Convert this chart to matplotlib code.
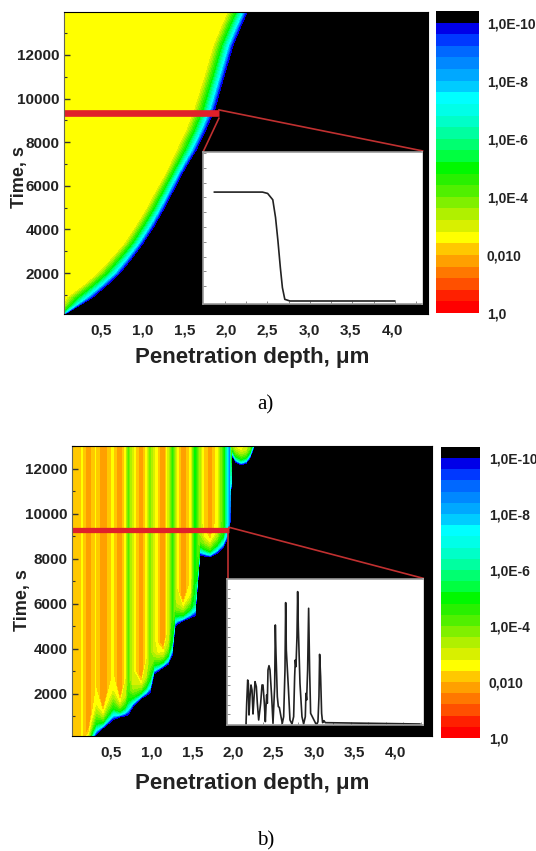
import numpy as np
import matplotlib
matplotlib.use('Agg')
import matplotlib.pyplot as plt
from matplotlib.colors import ListedColormap, BoundaryNorm

W, H = 536, 851
plt.rcParams['font.family'] = ['Liberation Sans', 'DejaVu Sans']

# colour scale, log10 of concentration, from black (low) up to red (1,0)
band_edges = np.linspace(-10.4, 0, 27)
band_colors = ['#000000', '#0000e8', '#0038ff', '#0068ff', '#0088ff', '#00a8ff', '#00ccff',
               '#00ffff', '#00ffe8', '#00ffc8', '#00ffa0', '#00ff70', '#00ff40', '#00f800',
               '#28f000', '#50f000', '#80f000', '#b0f000', '#d8f000', '#ffff00', '#ffc800',
               '#ffa000', '#ff7800', '#ff5000', '#ff2000', '#ff0000']
bar_ticks = [0, -2, -4, -6, -8, -10]
bar_labels = ['1,0', '0,010', '1,0E-4', '1,0E-6', '1,0E-8', '1,0E-10']
depth_ticks = [0.5, 1.0, 1.5, 2.0, 2.5, 3.0, 3.5, 4.0]
depth_labels = ['0,5', '1,0', '1,5', '2,0', '2,5', '3,0', '3,5', '4,0']
time_ticks = [2000, 4000, 6000, 8000, 10000, 12000]

# panel a: inner (yellow) and outer (black) edge of the front at these times
a_time = [120, 532, 899, 1450, 2000, 2688, 3376, 4156, 4890, 5670, 6404, 7046, 7642, 8606, 9569,
          11037, 12459, 13239, 13972]
a_yellow = [-0.03, 0.03, 0.084, 0.277, 0.446, 0.614, 0.771, 0.904, 1.024, 1.133, 1.241, 1.325, 1.398,
            1.518, 1.614, 1.735, 1.843, 1.928, 2.012]
a_black = [0.06, 0.241, 0.398, 0.566, 0.723, 0.867, 1.0, 1.133, 1.241, 1.349, 1.446, 1.542, 1.639,
           1.759, 1.867, 1.976, 2.084, 2.169, 2.253]
a_front_frac = [0, 0.42, 0.75, 0.92, 1]
a_front_levels = [-2.5, -2.8, -5.0, -7.4, -9.6, -10.0, -10.4]

# panel b: stripes, level reached at each depth and time the front arrives there
b_depth = [0.0, 0.021, 0.07, 0.156, 0.218, 0.267, 0.316, 0.402, 0.525, 0.611, 0.673, 0.71, 0.771,
           0.87, 0.931, 0.98, 1.03, 1.079, 1.14, 1.202, 1.251, 1.288, 1.312, 1.386, 1.472, 1.534,
           1.595, 1.657, 1.718, 1.804, 1.878, 1.928, 1.964, 1.989, 2.038, 2.1, 2.161, 2.21, 2.26,
           2.825, 4.449]
b_level = [-2.1, -2.1, -2.2, -2.5, -1.7, -2.2, -2.5, -1.7, -2.6, -1.7, -2.8, -4.3, -3.0,
           -1.7, -2.8, -4.0, -3.0, -2.4, -1.7, -3.2, -4.8, -3.8, -3.0, -1.6, -2.6, -5.4,
           -3.5, -2.3, -1.8, -2.7, -4.5, -7.0, -9.5, -3.0, -2.6, -2.4, -2.8, -4.0, -6.0,
           -10.4, -10.4]
b_arrival = [-2000, -2000, -2000, -1200, -500, -100, 178, 489, 850, 980, 1030, 1067, 1450,
             1800, 1930, 2050, 2900, 3020, 3180, 3330, 3700, 4978, 5100, 5250, 5380, 5480,
             8178, 8130, 8089, 8250, 8489, 8900, 9600, 12600, 12300, 12180, 12250, 12500, 13000,
             14500, 14500]
# fingers fill slower at their sides than at their middle, which rounds the U shapes
b_side_slow = [1, 1, 1, 1, 1, 1.5, 2, 1, 2, 1, 1.5, 2.5, 1.5,
               1, 1.5, 2.5, 1.5, 1.2, 1, 1.5, 2.5, 2, 1.5, 1, 1.5, 2.5,
               1.5, 1.2, 1, 1.5, 2, 2, 1, 1, 1, 1, 1, 1, 1,
               1, 1]
ramp_after = [0, 40, 100, 250, 450, 700, 1100]
ramp_level = [-10.0, -9.6, -7.4, -5.0, -3.8, -2.8, -1.6]

# inset curves, no scale on them in the figure so the units are arbitrary
inset_a_x = [32, 172, 187, 202, 210, 217, 224, 230, 237, 252, 557]
inset_a_y = [326, 326, 322, 303, 250, 180, 100, 40, 5, 0, 0]
inset_b_x = [53, 55, 58, 60, 62, 65, 68, 71, 74, 76, 80, 84, 87, 91, 97, 101, 104, 108, 111, 113, 115,
             117, 119, 122, 125, 130, 134, 139, 141, 143, 147, 150, 153, 158, 162, 166, 170, 172, 174,
             180, 185, 191, 196, 199, 201, 203, 206, 208, 210, 215, 221, 226, 231, 233, 235, 238,
             241, 244, 247, 263, 266, 269, 272, 274, 277, 280, 283, 287, 291, 575]
inset_b_y = [0, 62, 132, 122, 27, 82, 117, 102, 30, 62, 127, 112, 62, 12, 62, 117, 117, 62, 7, 52,
             87, 62, 162, 175, 162, 82, 2, 112, 297, 212, 82, 52, 50, 22, 2, 22, 162, 364, 222, 112,
             12, 0, 22, 142, 192, 172, 262, 397, 292, 122, 22, 0, 22, 92, 72, 162, 347, 162, 32, 0, 0,
             7, 82, 209, 142, 32, 4, 10, 4, 0]


def px_axes(left, top, right, bottom):
    return fig.add_axes([left / W, 1 - bottom / H, (right - left) / W, (bottom - top) / H])


def style_main(ax, xlim, ylim):
    ax.set_xlim(xlim)
    ax.set_ylim(ylim)
    ax.set_xticks(depth_ticks)
    ax.set_xticklabels(depth_labels, fontsize=11, fontweight='bold', color='#222222')
    ax.set_yticks(time_ticks)
    ax.set_yticks(np.arange(1000, ylim[1], 1000), minor=True)
    ax.tick_params(axis='y', labelsize=11, direction='in', length=4, width=1, color='#333333', pad=3)
    ax.tick_params(axis='y', which='minor', direction='in', length=2.5, width=0.8, color='#333333')
    ax.tick_params(axis='x', direction='in', length=0, pad=7)
    for label in ax.get_yticklabels():
        label.set_fontweight('bold')
        label.set_color('#222222')
    for name in ['top', 'right', 'bottom']:
        ax.spines[name].set_color('black')
    ax.spines['left'].set_color('#666655')


def color_bar(left, top, right, bottom):
    bar = px_axes(left, top, right, bottom)
    bar.pcolormesh([0, 1], band_edges, np.arange(26)[:, None], cmap=ListedColormap(band_colors),
                   norm=BoundaryNorm(np.arange(27) - 0.5, 26))
    bar.invert_yaxis()
    bar.set_xticks([])
    bar.yaxis.tick_right()
    bar.set_yticks(bar_ticks)
    bar.set_yticklabels(bar_labels, fontsize=10, fontweight='bold', color='#222222')
    bar.tick_params(axis='y', length=0, pad=6)
    for s in bar.spines.values():
        s.set_visible(False)
    return bar


def inset(left, top, right, bottom, xs, ys, xstep, ystep, xlim, ylim):
    ax = px_axes(left, top, right, bottom)
    ax.plot(xs, ys, color='#222222', lw=1.2)
    ax.set_xlim(xlim)
    ax.set_ylim(ylim)
    ax.set_xticks(np.arange(xstep, xlim[1], xstep))
    ax.set_yticks(np.arange(ystep, ylim[1], ystep))
    ax.set_xticklabels([])
    ax.set_yticklabels([])
    ax.tick_params(direction='in', length=2, width=0.6, color='#777777')
    for s in ax.spines.values():
        s.set_color('#999999')
        s.set_linewidth(1.2)
    ax.spines['right'].set_color('white')
    return ax


fig = plt.figure(figsize=(W / 100, H / 100), dpi=100)

# panel a
ax = px_axes(64, 12, 428, 314)
n = len(a_time)
fronts = [np.array(a_yellow) + f * (np.array(a_black) - np.array(a_yellow)) for f in a_front_frac]
a_x = np.column_stack([np.full(n, -0.1)] + fronts + [np.full(n, 4.6)])
a_y = np.tile(np.array(a_time)[:, None], (1, 7))
a_z = np.tile(a_front_levels, (n, 1))
ax.set_facecolor('black')
ax.contourf(a_x, a_y, a_z, levels=band_edges, colors=band_colors)
style_main(ax, (0.048, 4.43), (120, 13970))
ax.plot([0.048, 1.913], [9320, 9320], color='#e0202a', lw=4.8, solid_capstyle='butt')
ax.plot([1.913, 4.364], [9480, 7600], color='#c03030', lw=1.2)
ax.plot([1.913, 1.728], [9100, 7600], color='#c03030', lw=1.2)
ax.set_ylabel('Time, s', fontsize=13, fontweight='bold', color='#222222')
ax.yaxis.set_label_coords((28 - 64) / 364, (314 - 177) / 302)
fig.text(252 / W, 1 - 357 / H, 'Penetration depth, μm', fontsize=16, fontweight='bold', color='#222222',
         ha='center', va='center')
fig.text(265 / W, 1 - 405 / H, 'a)', fontsize=15, family='Liberation Serif', ha='center', va='center')
color_bar(436, 11, 478.6, 313)
inset(203.4, 152, 422.2, 304, inset_a_x, inset_a_y, 62, 44.3, (0, 637), (-9, 446))

# panel b
ax = px_axes(71.8, 445.7, 431.5, 736)
m = len(b_depth)
rows_y = [np.full(m, -14000.0)] + [np.array(b_arrival) + d * np.array(b_side_slow) for d in ramp_after] + [np.full(m, 15600.0)]
rows_z = [np.full(m, -10.4)] + [np.minimum(b_level, r) for r in ramp_level] + [np.array(b_level)]
b_x = np.tile(b_depth, (len(rows_y), 1))
ax.set_facecolor('black')
ax.contourf(b_x, np.vstack(rows_y), np.vstack(rows_z), levels=band_edges, colors=band_colors)
style_main(ax, (0.018, 4.443), (133, 13035))
ax.plot([0.018, 1.952], [9290, 9290], color='#e0202a', lw=3.8, solid_capstyle='butt')
ax.plot([1.952, 4.34], [9409, 7142], color='#c03030', lw=1.2)
ax.plot([1.94, 1.94], [9200, 7111], color='#c03030', lw=1.2)
ax.set_ylabel('Time, s', fontsize=13, fontweight='bold', color='#222222')
ax.yaxis.set_label_coords((31 - 71.8) / 359.7, (736 - 600) / 290.3)
fig.text(252 / W, 1 - 783.5 / H, 'Penetration depth, μm', fontsize=16, fontweight='bold', color='#222222',
         ha='center', va='center')
fig.text(266 / W, 1 - 840.7 / H, 'b)', fontsize=15, family='Liberation Serif', ha='center', va='center')
color_bar(441, 446.7, 480.3, 738)
inset(226.7, 579.3, 423.2, 725, inset_b_x, inset_b_y, 52.5, 29, (-5, 585), (-3, 434))

plt.savefig('out.png', dpi=100)
